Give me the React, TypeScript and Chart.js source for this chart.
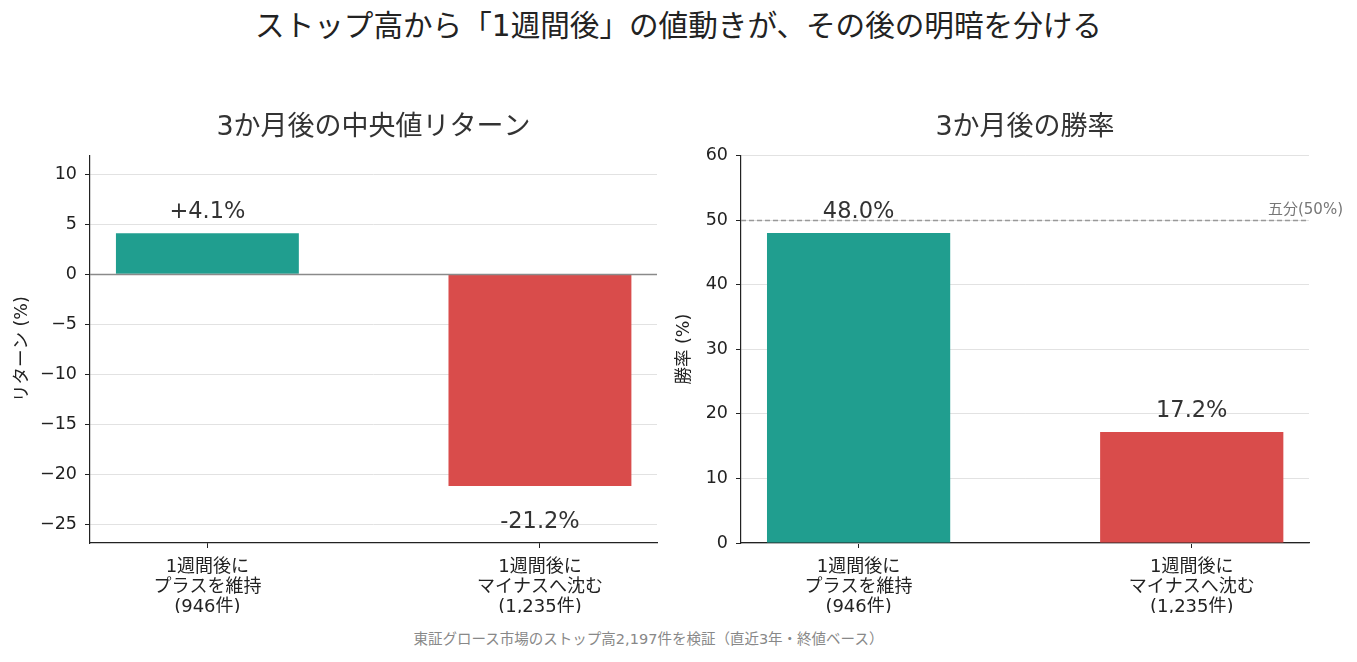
import React, { useEffect, useRef } from 'react';
import { Chart, registerables } from 'chart.js';

Chart.register(...registerables);

const FONT = "'DejaVu Sans', 'Noto Sans CJK JP', sans-serif";

// ---- data ----
const mainTitle = 'ストップ高から「1週間後」の値動きが、その後の明暗を分ける';
const footnote = '東証グロース市場のストップ高2,197件を検証（直近3年・終値ベース）';

const categories = [
  ['1週間後に', 'プラスを維持', '(946件)'],
  ['1週間後に', 'マイナスへ沈む', '(1,235件)'],
];
const categoryPositions = [0, 1];
const xRange = [-0.353, 1.352];
const barColors = ['#209e8f', '#d94c4b'];

const returnTitle = '3か月後の中央値リターン';
const returnAxisLabel = 'リターン (%)';
const returnValues = [4.1, -21.2];
const returnTicks = [-25, -20, -15, -10, -5, 0, 5, 10];
const returnRange = [-26.9, 11.9];

const winTitle = '3か月後の勝率';
const winAxisLabel = '勝率 (%)';
const winValues = [48.0, 17.2];
const winTicks = [0, 10, 20, 30, 40, 50, 60];
const winRange = [0, 60];
const breakEven = 50;
const breakEvenLabel = '五分(50%)';

type PanelSpec = {
  title: string;
  axisLabel: string;
  values: number[];
  ticks: number[];
  range: number[];
  format: (v: number) => string;
  zeroLine: boolean;
  refLine: number | null;
  refLabel: string;
  yTitlePad: number;
  yAxisWidth: number;
  padRight: number;
};

function makeOverlay(spec: PanelSpec) {
  return {
    id: 'overlay',
    afterDatasetsDraw(chart: any) {
      const { ctx, chartArea } = chart;
      const y = chart.scales.y;
      ctx.save();
      if (spec.zeroLine) {
        const py = Math.round(y.getPixelForValue(0)) + 0.5;
        ctx.strokeStyle = '#8a8a8a';
        ctx.lineWidth = 1.5;
        ctx.beginPath();
        ctx.moveTo(chartArea.left, py);
        ctx.lineTo(chartArea.right, py);
        ctx.stroke();
      }
      if (spec.refLine !== null) {
        const py = Math.round(y.getPixelForValue(spec.refLine)) + 0.5;
        ctx.strokeStyle = '#999999';
        ctx.lineWidth = 1.3;
        ctx.setLineDash([5, 3]);
        ctx.beginPath();
        ctx.moveTo(chartArea.left, py);
        ctx.lineTo(chartArea.right, py);
        ctx.stroke();
        ctx.setLineDash([]);
        ctx.fillStyle = '#777777';
        ctx.font = `15px ${FONT}`;
        ctx.textAlign = 'right';
        ctx.textBaseline = 'middle';
        ctx.fillText(spec.refLabel, chartArea.right + 34, py - 10);
      }
      const meta = chart.getDatasetMeta(0);
      ctx.fillStyle = '#333333';
      ctx.font = `22.5px ${FONT}`;
      ctx.textAlign = 'center';
      ctx.textBaseline = 'middle';
      meta.data.forEach((bar: any, i: number) => {
        const v = spec.values[i];
        const p = bar.getProps(['x', 'y', 'base'], true);
        const top = Math.min(p.y, p.base);
        const bottom = Math.max(p.y, p.base);
        const cy = v >= 0 ? top - 21 : bottom + 36;
        ctx.fillText(spec.format(v), p.x, cy);
      });
      ctx.restore();
    },
  };
}

function makeConfig(spec: PanelSpec): any {
  return {
    type: 'bar',
    data: {
      datasets: [
        {
          data: categoryPositions.map((x, i) => ({ x, y: spec.values[i] })),
          backgroundColor: barColors,
          borderWidth: 0,
          barPercentage: 0.55,
          categoryPercentage: 1,
        },
      ],
    },
    options: {
      responsive: false,
      animation: false,
      devicePixelRatio: 1,
      layout: { padding: { left: 0, right: spec.padRight, top: 0, bottom: 12 } },
      plugins: {
        legend: { display: false },
        tooltip: { enabled: false },
        title: {
          display: true,
          text: spec.title,
          fullSize: false,
          color: '#333333',
          font: { family: FONT, size: 27, weight: 'normal', lineHeight: 1.2 },
          padding: { top: 12, bottom: 11 },
        },
      },
      scales: {
        x: {
          type: 'linear',
          min: xRange[0],
          max: xRange[1],
          offset: false,
          afterBuildTicks: (s: any) => {
            s.ticks = categoryPositions.map((v) => ({ value: v }));
          },
          afterFit: (s: any) => {
            s.height = 70;
          },
          ticks: {
            callback: (_v: any, i: number) => categories[i],
            color: '#222222',
            font: { family: FONT, size: 18, lineHeight: 20 / 18 },
            padding: 9,
            maxRotation: 0,
            autoSkip: false,
          },
          grid: {
            offset: false,
            drawOnChartArea: false,
            drawTicks: true,
            tickLength: 5,
            tickColor: '#222222',
            tickWidth: 1,
          },
          border: { display: true, color: '#222222', width: 1.2 },
        },
        y: {
          type: 'linear',
          min: spec.range[0],
          max: spec.range[1],
          afterBuildTicks: (s: any) => {
            s.ticks = spec.ticks.map((v) => ({ value: v }));
          },
          afterFit: (s: any) => {
            s.width = spec.yAxisWidth;
          },
          ticks: {
            callback: (v: any) => String(v).replace('-', '\u2212'),
            color: '#222222',
            font: { family: FONT, size: 17.5 },
            padding: 8,
          },
          grid: {
            color: '#e2e2e2',
            lineWidth: 1,
            tickLength: 5,
            tickColor: '#222222',
            tickWidth: 1,
          },
          border: { display: true, color: '#222222', width: 1.2 },
          title: {
            display: true,
            text: spec.axisLabel,
            color: '#222222',
            font: { family: FONT, size: 17.5, lineHeight: 1.2 },
            padding: { top: spec.yTitlePad, bottom: 0 },
          },
        },
      },
    },
    plugins: [makeOverlay(spec)],
  };
}

const leftSpec: PanelSpec = {
  title: returnTitle,
  axisLabel: returnAxisLabel,
  values: returnValues,
  ticks: returnTicks,
  range: returnRange,
  format: (v) => `${v > 0 ? '+' : ''}${v.toFixed(1)}%`,
  zeroLine: true,
  refLine: null,
  refLabel: '',
  yTitlePad: 12,
  yAxisWidth: 90,
  padRight: 13,
};

const rightSpec: PanelSpec = {
  title: winTitle,
  axisLabel: winAxisLabel,
  values: winValues,
  ticks: winTicks,
  range: winRange,
  format: (v) => `${v.toFixed(1)}%`,
  zeroLine: false,
  refLine: breakEven,
  refLabel: breakEvenLabel,
  yTitlePad: 4,
  yAxisWidth: 71,
  padRight: 48,
};

function Panel({ spec, left, width }: { spec: PanelSpec; left: number; width: number }) {
  const ref = useRef<HTMLCanvasElement>(null);
  useEffect(() => {
    if (!ref.current) return;
    const chart = new Chart(ref.current, makeConfig(spec));
    return () => chart.destroy();
  }, [spec]);
  return (
    <canvas
      ref={ref}
      width={width}
      height={525}
      style={{ position: 'absolute', left, top: 100, width, height: 525 }}
    />
  );
}

export default function App() {
  return (
    <div
      style={{
        position: 'absolute',
        left: 0,
        top: 0,
        width: 1357,
        height: 662,
        background: '#ffffff',
        fontFamily: FONT,
        overflow: 'hidden',
      }}
    >
      <div
        style={{
          position: 'absolute',
          left: 0,
          top: 1,
          width: 1357,
          height: 50,
          lineHeight: '50px',
          textAlign: 'center',
          fontSize: 29.6,
          color: '#222222',
          whiteSpace: 'nowrap',
        }}
      >
        {mainTitle}
      </div>
      <Panel spec={leftSpec} left={0} width={670} />
      <Panel spec={rightSpec} left={670} width={687} />
      <div
        style={{
          position: 'absolute',
          left: 0,
          top: 629,
          width: 1297,
          height: 20,
          lineHeight: '20px',
          textAlign: 'center',
          fontSize: 14.5,
          color: '#888888',
          whiteSpace: 'nowrap',
        }}
      >
        {footnote}
      </div>
    </div>
  );
}
